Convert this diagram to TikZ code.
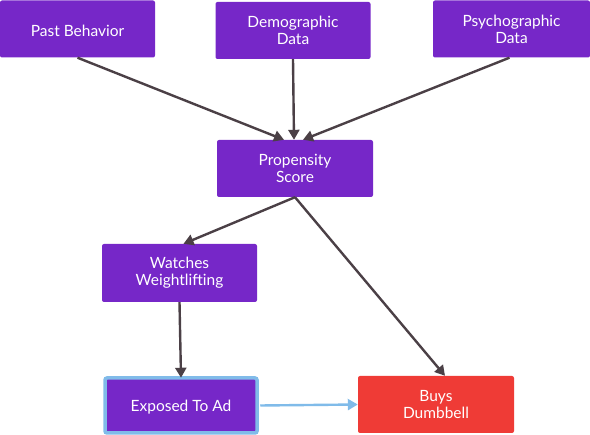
\documentclass[tikz,border=0pt]{standalone}
\usepackage{fontspec}
\setmainfont{Lato}
\usetikzlibrary{arrows.meta}
\definecolor{purp}{HTML}{7627C8}
\definecolor{redb}{HTML}{EF3B36}
\definecolor{arr}{HTML}{4B4046}
\definecolor{lblue}{HTML}{80BBE9}
\begin{document}
\begin{tikzpicture}[x=1pt,y=-1pt,
  box/.style={fill=purp,rounded corners=2pt,text=white,align=center,inner sep=0pt,
    font=\fontsize{15.5}{17}\selectfont,execute at begin node={\rule{0pt}{15pt}}},
  conn/.style={draw=arr,line width=2.4pt,-{Triangle[length=10pt,width=11pt]}},
  bconn/.style={draw=lblue,line width=2.4pt,-{Triangle[length=10pt,width=11pt]}}]
\useasboundingbox (0,0) rectangle (590,435);
\node[box,minimum width=155pt,minimum height=57pt] (pb) at (77.5,29) {Past Behavior};
\node[box,minimum width=155pt,minimum height=57pt] (dd) at (293,30.5) {Demographic\\Data};
\node[box,minimum width=157pt,minimum height=57pt] (pd) at (511.5,29) {Psychographic\\Data};
\node[box,minimum width=156pt,minimum height=57pt] (ps) at (295,168.5) {Propensity\\Score};
\node[box,minimum width=155pt,minimum height=58pt] (ww) at (179.5,273) {Watches\\Weightlifting};
\node[box,draw=lblue,line width=3.5pt,minimum width=152pt,minimum height=55pt] (ea) at (181,405.5) {Exposed To Ad};
\node[box,fill=redb,minimum width=156pt,minimum height=57pt] (bd) at (436,404.5) {Buys\\Dumbbell};
\draw[conn] (pb.south) -- ([xshift=-11pt]ps.north);
\draw[conn] (dd.south) -- ([xshift=-1pt]ps.north);
\draw[conn] ([xshift=-2pt]pd.south) -- ([xshift=8pt]ps.north);
\draw[conn] (ps.south) -- ([xshift=4pt]ww.north);
\draw[conn] (ps.south) -- ([xshift=9pt]bd.north);
\draw[conn] (ww.south) -- ([yshift=-1.5pt]ea.north);
\draw[bconn] ([xshift=1.5pt]ea.east) -- (bd.west);
\end{tikzpicture}
\end{document}
